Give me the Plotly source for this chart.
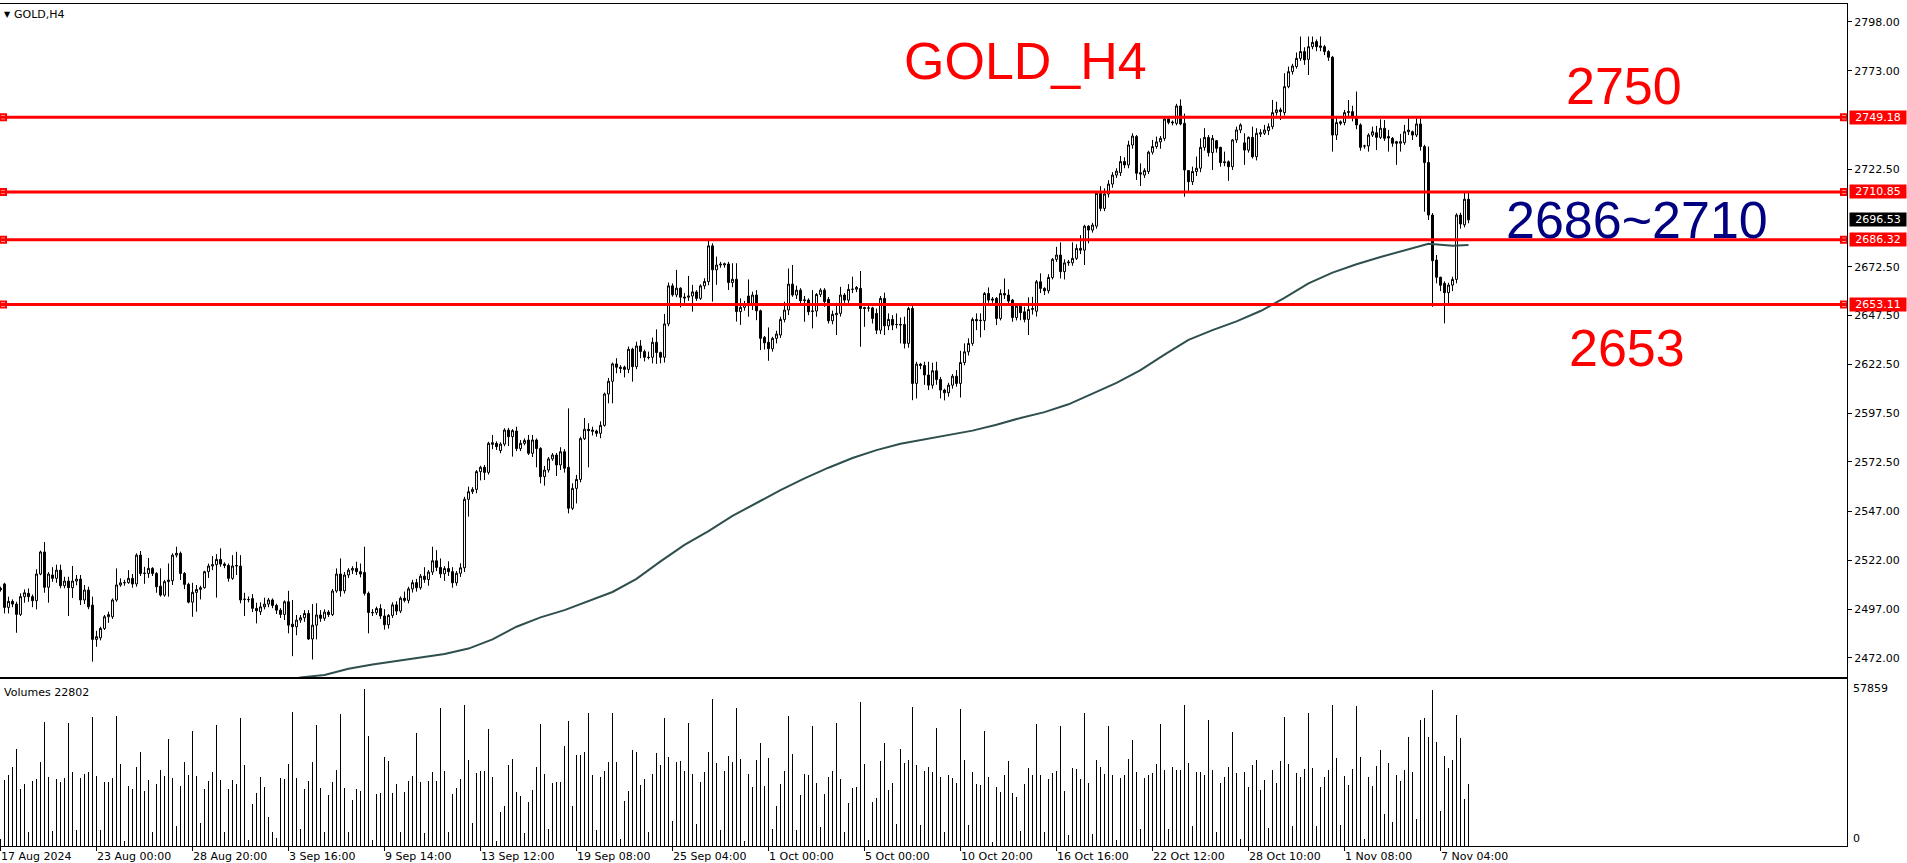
import plotly.graph_objects as go

# ---------------- data ----------------
open_ = [
    2507.6, 2509.9, 2497.9, 2501.0, 2499.6, 2494.3, 2503.4, 2505.1, 2503.4, 2501.3, 2515.0, 2526.3,
    2508.2, 2514.5, 2512.8, 2517.0, 2509.0, 2511.4, 2508.0, 2511.4, 2512.4, 2501.7, 2506.8, 2499.1,
    2481.5, 2482.3, 2487.1, 2493.1, 2493.1, 2501.7, 2509.4, 2510.5, 2510.6, 2512.8, 2509.9, 2524.7,
    2515.3, 2515.3, 2517.9, 2515.3, 2508.8, 2504.2, 2511.1, 2511.6, 2524.7, 2525.6, 2515.3, 2509.7,
    2500.6, 2505.6, 2507.1, 2508.0, 2516.2, 2519.1, 2519.8, 2522.5, 2520.1, 2519.4, 2512.8, 2519.1,
    2519.1, 2501.9, 2502.0, 2502.4, 2497.4, 2495.7, 2498.2, 2499.6, 2501.7, 2498.9, 2496.5, 2494.3,
    2500.8, 2489.3, 2488.0, 2491.4, 2492.6, 2494.8, 2481.7, 2488.8, 2494.0, 2492.3, 2495.5, 2494.2,
    2506.3, 2515.0, 2506.4, 2514.5, 2517.0, 2517.9, 2516.2, 2515.8, 2505.1, 2495.3, 2495.2, 2497.3,
    2493.5, 2489.0, 2493.8, 2499.2, 2496.0, 2502.6, 2501.5, 2507.4, 2510.6, 2508.0, 2513.9, 2512.2,
    2516.0, 2521.8, 2518.4, 2515.1, 2517.8, 2516.2, 2510.5, 2515.4, 2518.2, 2553.3, 2557.2, 2558.4,
    2567.5, 2569.7, 2567.1, 2582.3, 2582.0, 2578.3, 2581.6, 2588.8, 2585.4, 2588.3, 2579.3, 2582.0,
    2583.7, 2576.9, 2583.7, 2579.4, 2564.9, 2568.3, 2574.0, 2576.0, 2570.9, 2577.7, 2569.7, 2548.7,
    2558.9, 2563.5, 2584.4, 2589.2, 2588.8, 2588.3, 2587.1, 2591.2, 2607.3, 2613.8, 2622.7, 2621.0,
    2621.0, 2619.9, 2630.2, 2621.3, 2631.9, 2629.0, 2626.1, 2626.1, 2633.8, 2628.5, 2626.1, 2643.2,
    2662.7, 2658.1, 2661.5, 2657.0, 2656.9, 2657.5, 2659.6, 2656.3, 2662.7, 2664.9, 2683.2, 2670.9,
    2673.4, 2673.4, 2673.9, 2664.4, 2666.1, 2649.5, 2651.7, 2657.5, 2653.4, 2658.0, 2649.9, 2636.3,
    2633.8, 2630.5, 2635.8, 2637.5, 2645.5, 2650.3, 2663.6, 2658.0, 2660.5, 2655.1, 2655.4, 2649.6,
    2649.8, 2658.3, 2660.5, 2655.8, 2644.8, 2647.9, 2648.6, 2658.0, 2655.4, 2660.9, 2661.0, 2661.4,
    2651.6, 2651.4, 2651.4, 2648.6, 2640.0, 2656.3, 2642.2, 2645.5, 2642.9, 2642.9, 2642.9, 2633.2,
    2651.1, 2612.7, 2622.6, 2621.9, 2617.0, 2611.8, 2619.2, 2614.7, 2609.3, 2607.9, 2611.8, 2616.4,
    2612.7, 2623.4, 2628.9, 2633.2, 2645.5, 2645.1, 2644.9, 2658.8, 2656.0, 2656.3, 2646.0, 2658.8,
    2658.0, 2655.4, 2646.5, 2652.3, 2649.4, 2645.5, 2650.6, 2649.7, 2664.8, 2661.4, 2660.2, 2667.0,
    2676.3, 2678.5, 2670.0, 2674.5, 2674.5, 2676.8, 2681.9, 2681.0, 2693.3, 2691.3, 2693.3, 2710.1,
    2702.4, 2709.8, 2714.9, 2719.5, 2720.7, 2726.4, 2724.7, 2734.9, 2739.2, 2720.7, 2719.5, 2721.3,
    2731.2, 2734.1, 2736.5, 2738.3, 2748.2, 2746.7, 2746.0, 2754.9, 2746.0, 2721.8, 2716.1, 2721.3,
    2723.0, 2733.7, 2738.8, 2731.0, 2737.1, 2733.7, 2726.3, 2726.3, 2723.8, 2737.5, 2742.6, 2736.0,
    2732.3, 2738.8, 2728.9, 2740.5, 2740.9, 2742.3, 2744.3, 2751.5, 2752.9, 2751.5, 2764.8, 2772.5,
    2775.1, 2779.3, 2782.8, 2778.8, 2785.3, 2787.9, 2785.7, 2785.3, 2782.8, 2779.9, 2740.0, 2746.8,
    2746.4, 2751.5, 2752.0, 2749.4, 2745.2, 2734.4, 2734.4, 2740.0, 2741.2, 2738.8, 2743.5, 2739.2,
    2738.3, 2736.6, 2735.8, 2736.1, 2741.7, 2741.7, 2740.0, 2745.7, 2734.1, 2725.9, 2699.0, 2675.9,
    2667.1, 2664.0, 2659.2, 2663.1, 2666.0, 2699.0, 2694.0, 2707.1,
]
high = [
    2508.5, 2510.5, 2503.4, 2502.0, 2500.8, 2505.1, 2507.1, 2507.6, 2504.5, 2517.4, 2527.0, 2531.4,
    2516.0, 2518.5, 2519.8, 2519.8, 2513.6, 2513.6, 2519.1, 2514.5, 2514.5, 2509.4, 2508.5, 2503.4,
    2485.9, 2488.0, 2494.0, 2495.7, 2502.5, 2517.9, 2512.8, 2512.0, 2517.0, 2515.0, 2525.6, 2526.8,
    2518.7, 2523.2, 2518.5, 2516.0, 2517.9, 2512.0, 2520.4, 2525.6, 2529.0, 2526.5, 2516.0, 2510.5,
    2510.5, 2509.4, 2509.0, 2516.7, 2520.4, 2524.2, 2525.2, 2528.2, 2521.0, 2520.4, 2524.7, 2526.4,
    2524.7, 2505.4, 2503.5, 2504.7, 2500.3, 2500.5, 2502.9, 2502.7, 2502.5, 2499.8, 2497.5, 2501.5,
    2506.4, 2501.7, 2494.0, 2494.0, 2496.5, 2496.5, 2499.6, 2500.0, 2496.5, 2496.9, 2496.5, 2507.3,
    2517.9, 2523.0, 2516.0, 2518.0, 2519.0, 2521.3, 2520.4, 2529.0, 2506.0, 2497.0, 2498.3, 2499.5,
    2497.0, 2494.5, 2500.5, 2501.0, 2503.5, 2506.0, 2508.5, 2512.0, 2512.5, 2515.0, 2518.5, 2517.0,
    2529.0, 2527.2, 2523.0, 2519.0, 2521.5, 2518.5, 2516.5, 2520.5, 2554.6, 2559.8, 2559.5, 2568.3,
    2570.5, 2570.9, 2582.8, 2586.3, 2583.0, 2582.5, 2589.7, 2589.9, 2589.3, 2590.5, 2583.7, 2584.5,
    2586.3, 2586.3, 2584.5, 2580.0, 2570.4, 2575.0, 2577.0, 2577.0, 2580.0, 2579.0, 2599.9, 2561.5,
    2565.8, 2585.4, 2595.0, 2592.3, 2590.5, 2589.0, 2593.3, 2608.0, 2615.5, 2623.4, 2625.6, 2622.0,
    2621.8, 2631.6, 2631.0, 2634.1, 2634.9, 2630.0, 2629.0, 2636.2, 2640.4, 2629.0, 2648.3, 2664.4,
    2664.0, 2670.9, 2662.0, 2659.0, 2667.8, 2663.2, 2660.5, 2663.5, 2666.6, 2685.9, 2684.5, 2677.7,
    2675.0, 2674.6, 2675.0, 2674.3, 2674.3, 2656.3, 2655.0, 2666.0, 2659.7, 2660.5, 2650.5, 2637.0,
    2641.4, 2636.6, 2639.7, 2646.9, 2654.6, 2671.6, 2673.4, 2662.8, 2661.5, 2657.5, 2656.3, 2660.5,
    2659.0, 2661.5, 2661.5, 2657.0, 2650.0, 2654.0, 2662.2, 2659.0, 2663.6, 2667.4, 2662.6, 2670.3,
    2652.0, 2652.5, 2652.0, 2651.1, 2657.5, 2659.2, 2648.6, 2647.7, 2648.6, 2646.5, 2646.9, 2652.0,
    2652.3, 2623.8, 2623.2, 2623.8, 2623.8, 2623.3, 2623.8, 2616.0, 2610.0, 2613.0, 2617.5, 2619.5,
    2629.4, 2633.2, 2635.8, 2646.5, 2648.6, 2648.6, 2659.5, 2661.9, 2657.0, 2657.0, 2660.9, 2666.5,
    2660.9, 2656.0, 2653.0, 2654.0, 2652.0, 2656.8, 2657.1, 2665.7, 2669.1, 2662.0, 2668.7, 2677.0,
    2682.7, 2685.0, 2676.3, 2676.0, 2685.0, 2684.0, 2688.7, 2694.0, 2693.8, 2695.0, 2710.8, 2713.8,
    2712.7, 2716.9, 2721.0, 2723.0, 2729.3, 2728.6, 2737.1, 2740.9, 2740.0, 2725.5, 2723.0, 2732.0,
    2737.5, 2739.2, 2739.5, 2749.5, 2749.0, 2747.5, 2756.0, 2758.3, 2751.0, 2722.0, 2723.8, 2729.0,
    2738.3, 2743.5, 2740.0, 2740.0, 2737.5, 2734.0, 2731.5, 2727.0, 2738.0, 2744.3, 2746.0, 2740.9,
    2739.3, 2744.3, 2743.5, 2743.0, 2745.2, 2746.0, 2758.0, 2757.1, 2754.0, 2771.7, 2775.1, 2776.5,
    2782.3, 2790.5, 2785.0, 2790.5, 2790.5, 2789.0, 2790.5, 2786.2, 2783.5, 2780.5, 2748.9, 2747.5,
    2752.9, 2758.0, 2755.0, 2762.3, 2746.0, 2735.0, 2740.9, 2744.3, 2744.7, 2748.1, 2747.7, 2742.6,
    2739.0, 2737.0, 2740.6, 2745.2, 2748.6, 2742.3, 2748.6, 2748.6, 2735.0, 2734.1, 2700.0, 2678.5,
    2667.4, 2665.0, 2664.3, 2667.4, 2699.9, 2700.2, 2710.5, 2710.5,
]
low = [
    2506.0, 2494.8, 2494.8, 2498.0, 2484.9, 2493.5, 2500.3, 2500.8, 2498.0, 2496.9, 2514.4, 2505.4,
    2500.3, 2511.0, 2510.5, 2507.7, 2507.7, 2493.5, 2502.7, 2509.2, 2499.1, 2499.6, 2497.0, 2470.1,
    2477.7, 2481.0, 2486.3, 2490.0, 2492.0, 2500.8, 2508.5, 2509.0, 2510.0, 2508.0, 2508.5, 2514.0,
    2510.0, 2513.0, 2514.0, 2505.4, 2503.4, 2503.4, 2503.4, 2509.4, 2523.5, 2511.9, 2507.3, 2500.0,
    2493.1, 2495.7, 2502.0, 2507.5, 2513.0, 2517.0, 2502.9, 2518.7, 2518.0, 2511.1, 2512.0, 2514.5,
    2500.0, 2493.5, 2500.5, 2495.5, 2489.7, 2494.0, 2496.9, 2498.0, 2497.5, 2494.5, 2492.5, 2491.4,
    2484.6, 2472.9, 2483.6, 2490.0, 2490.5, 2481.2, 2471.2, 2481.5, 2490.5, 2491.0, 2493.0, 2493.5,
    2505.4, 2503.4, 2505.0, 2513.0, 2515.0, 2514.5, 2513.3, 2504.0, 2484.6, 2493.5, 2494.0, 2492.0,
    2486.5, 2487.0, 2492.5, 2494.0, 2495.0, 2500.5, 2500.0, 2505.5, 2506.0, 2507.0, 2510.5, 2509.0,
    2514.5, 2516.5, 2513.0, 2511.5, 2514.0, 2508.0, 2509.0, 2513.5, 2516.0, 2544.4, 2556.0, 2556.4,
    2563.0, 2563.2, 2566.0, 2579.0, 2578.6, 2576.9, 2580.5, 2580.6, 2575.2, 2578.0, 2578.0, 2581.0,
    2576.0, 2575.0, 2569.7, 2561.5, 2560.3, 2567.0, 2573.0, 2565.2, 2568.3, 2567.0, 2546.1, 2547.8,
    2551.2, 2562.0, 2583.7, 2569.7, 2586.0, 2585.4, 2584.6, 2590.5, 2602.5, 2602.5, 2617.9, 2618.0,
    2615.8, 2618.0, 2613.6, 2620.0, 2625.6, 2624.0, 2625.0, 2623.0, 2622.7, 2623.0, 2623.4, 2642.0,
    2657.2, 2656.9, 2651.7, 2654.0, 2655.0, 2649.5, 2655.0, 2655.5, 2661.0, 2663.0, 2654.6, 2663.2,
    2672.0, 2672.0, 2660.6, 2662.0, 2644.4, 2642.7, 2650.0, 2646.9, 2650.3, 2645.1, 2629.8, 2630.1,
    2624.3, 2629.0, 2633.2, 2636.0, 2644.0, 2647.7, 2657.1, 2656.0, 2653.0, 2644.3, 2647.7, 2640.9,
    2646.9, 2657.0, 2652.0, 2643.4, 2643.0, 2637.5, 2647.0, 2654.0, 2654.0, 2659.0, 2659.5, 2631.5,
    2641.7, 2649.5, 2643.4, 2638.0, 2638.0, 2637.5, 2640.0, 2640.0, 2640.9, 2633.2, 2630.6, 2631.0,
    2604.1, 2605.0, 2620.0, 2612.0, 2609.3, 2610.0, 2612.0, 2605.0, 2604.0, 2605.9, 2610.0, 2611.0,
    2605.5, 2622.0, 2627.0, 2632.0, 2640.0, 2636.3, 2640.0, 2654.0, 2654.0, 2642.6, 2645.0, 2656.0,
    2653.0, 2644.3, 2645.0, 2645.1, 2644.0, 2637.5, 2648.0, 2647.0, 2659.0, 2658.0, 2658.8, 2666.0,
    2675.0, 2666.5, 2666.0, 2673.0, 2673.0, 2676.0, 2679.0, 2673.4, 2684.5, 2690.0, 2692.0, 2701.0,
    2701.0, 2708.0, 2713.0, 2718.0, 2719.0, 2723.0, 2723.0, 2733.0, 2717.0, 2713.9, 2718.0, 2720.0,
    2730.0, 2733.0, 2733.0, 2737.0, 2745.5, 2745.0, 2745.0, 2745.0, 2708.4, 2711.5, 2714.4, 2719.0,
    2721.0, 2732.0, 2729.0, 2722.1, 2731.0, 2723.8, 2724.0, 2716.5, 2722.1, 2736.0, 2741.0, 2724.7,
    2731.0, 2728.0, 2727.0, 2739.0, 2740.0, 2740.0, 2743.0, 2750.0, 2747.7, 2750.0, 2764.0, 2771.0,
    2774.0, 2778.0, 2776.0, 2770.8, 2784.0, 2783.0, 2783.0, 2781.0, 2778.0, 2731.5, 2737.5, 2745.0,
    2745.0, 2749.0, 2747.0, 2743.0, 2732.0, 2733.0, 2731.5, 2739.0, 2732.3, 2738.0, 2737.0, 2731.5,
    2734.0, 2724.7, 2731.5, 2735.0, 2740.0, 2737.5, 2739.0, 2732.0, 2700.7, 2696.5, 2652.0, 2664.0,
    2660.0, 2643.5, 2653.5, 2660.0, 2664.0, 2692.0, 2692.7, 2694.8,
]
close = [
    2507.0, 2497.9, 2501.0, 2499.6, 2494.3, 2503.4, 2505.4, 2503.4, 2501.3, 2515.0, 2526.3, 2508.2,
    2515.0, 2512.8, 2517.0, 2509.0, 2511.4, 2508.0, 2511.4, 2512.4, 2501.7, 2506.8, 2498.2, 2481.5,
    2482.9, 2487.1, 2493.1, 2494.2, 2501.7, 2509.4, 2510.5, 2510.6, 2512.8, 2509.9, 2524.7, 2515.3,
    2515.4, 2517.9, 2515.3, 2508.5, 2504.2, 2511.1, 2511.9, 2524.7, 2525.6, 2515.3, 2509.7, 2500.6,
    2505.6, 2507.1, 2508.0, 2516.2, 2519.1, 2519.8, 2522.5, 2520.1, 2519.4, 2512.8, 2519.1, 2519.3,
    2501.7, 2502.1, 2501.9, 2497.4, 2496.2, 2498.2, 2499.6, 2501.7, 2498.9, 2496.5, 2494.3, 2500.8,
    2488.8, 2488.0, 2491.4, 2492.6, 2494.8, 2481.7, 2488.8, 2494.0, 2492.3, 2495.5, 2494.2, 2506.3,
    2515.0, 2506.4, 2514.5, 2517.0, 2517.9, 2516.2, 2515.0, 2505.1, 2495.3, 2495.2, 2497.3, 2493.5,
    2489.0, 2493.8, 2499.2, 2496.0, 2502.6, 2501.5, 2507.4, 2510.6, 2508.0, 2513.9, 2512.2, 2516.0,
    2521.8, 2518.4, 2515.1, 2517.8, 2516.2, 2510.5, 2515.4, 2518.2, 2553.3, 2557.2, 2558.4, 2567.5,
    2569.7, 2567.1, 2582.0, 2581.5, 2580.3, 2581.6, 2588.8, 2585.4, 2588.5, 2579.3, 2582.0, 2583.4,
    2576.9, 2583.7, 2579.3, 2564.9, 2568.3, 2574.0, 2576.0, 2570.9, 2577.7, 2569.2, 2548.7, 2558.9,
    2563.5, 2584.4, 2589.2, 2588.5, 2588.2, 2587.1, 2591.2, 2607.3, 2613.8, 2622.7, 2621.0, 2620.4,
    2619.9, 2630.2, 2621.3, 2631.9, 2629.0, 2626.1, 2626.0, 2633.8, 2628.5, 2626.1, 2643.2, 2662.7,
    2658.1, 2661.5, 2656.9, 2656.5, 2657.5, 2659.6, 2656.3, 2662.7, 2664.9, 2683.2, 2670.9, 2673.4,
    2673.8, 2674.0, 2664.4, 2666.1, 2649.5, 2651.7, 2653.4, 2653.4, 2658.0, 2649.9, 2635.8, 2633.5,
    2630.5, 2635.8, 2638.0, 2645.5, 2650.3, 2663.6, 2658.0, 2660.5, 2655.1, 2655.5, 2649.4, 2649.8,
    2658.3, 2660.5, 2654.6, 2644.8, 2648.1, 2648.6, 2658.0, 2655.4, 2660.9, 2661.0, 2661.9, 2651.1,
    2651.1, 2651.3, 2646.0, 2640.0, 2656.3, 2642.2, 2645.5, 2642.6, 2642.9, 2642.7, 2633.2, 2651.1,
    2612.7, 2622.6, 2621.9, 2617.0, 2611.8, 2619.2, 2614.7, 2609.3, 2607.9, 2611.8, 2616.4, 2612.7,
    2623.4, 2628.9, 2633.2, 2645.5, 2644.8, 2644.9, 2658.8, 2655.4, 2655.4, 2646.0, 2658.8, 2658.0,
    2654.9, 2646.5, 2652.3, 2648.9, 2645.5, 2650.6, 2651.1, 2664.8, 2661.4, 2660.2, 2667.0, 2676.3,
    2678.5, 2670.0, 2674.5, 2674.9, 2676.8, 2681.9, 2681.0, 2693.3, 2691.3, 2693.9, 2710.1, 2702.4,
    2709.8, 2714.9, 2719.5, 2721.5, 2726.4, 2724.7, 2734.9, 2739.5, 2720.4, 2720.0, 2721.8, 2731.2,
    2734.1, 2736.5, 2738.3, 2748.2, 2746.5, 2746.3, 2754.9, 2745.7, 2722.1, 2716.1, 2721.3, 2723.0,
    2733.7, 2738.8, 2731.0, 2738.3, 2733.2, 2725.9, 2725.9, 2723.8, 2737.5, 2742.6, 2745.2, 2732.3,
    2738.8, 2728.9, 2740.9, 2741.2, 2742.6, 2744.3, 2751.5, 2752.9, 2752.0, 2764.8, 2772.5, 2775.4,
    2779.3, 2782.8, 2778.5, 2785.3, 2787.5, 2785.3, 2785.0, 2782.8, 2779.9, 2740.0, 2746.4, 2746.0,
    2751.5, 2752.0, 2749.4, 2745.2, 2733.7, 2734.4, 2740.0, 2741.7, 2738.8, 2743.5, 2738.3, 2738.5,
    2735.8, 2735.8, 2736.6, 2741.7, 2742.6, 2740.0, 2745.7, 2734.1, 2725.9, 2699.0, 2675.6, 2667.1,
    2663.0, 2659.2, 2663.1, 2666.0, 2699.0, 2694.4, 2707.1, 2696.53,
]
volume = [
    2700, 24300, 26200, 29000, 35800, 21000, 22800, 5100, 23900, 24700, 31000, 45800,
    25400, 5400, 24700, 23600, 25000, 45400, 27300, 5800, 25000, 26500, 27300, 47600,
    25800, 5800, 23600, 23600, 25000, 48000, 30200, 1700, 22100, 21000, 29100, 34700,
    20200, 24300, 5100, 22800, 28000, 25800, 39500, 25000, 7300, 22100, 31000, 26200,
    42400, 25800, 8400, 21000, 23900, 27300, 44700, 24300, 5100, 21000, 24300, 22800,
    47300, 29900, 2100, 15400, 19500, 25400, 21700, 10600, 5100, 2800, 25000, 24700,
    30200, 49500, 25000, 6200, 21000, 23900, 31000, 44700, 21300, 5100, 18800, 23600,
    28000, 48700, 21300, 5100, 16900, 21000, 20200, 57859, 40600, 2100, 19100, 19500,
    32800, 31300, 19500, 22800, 5100, 19900, 23900, 25800, 41700, 23600, 4700, 23900,
    27300, 23900, 51000, 27600, 5100, 19100, 21300, 24700, 52100, 31700, 8400, 26900,
    27600, 27600, 43200, 25400, 1700, 12500, 14700, 29900, 32100, 19900, 18400, 4700,
    16200, 20600, 29100, 45000, 26500, 6200, 23200, 23600, 23600, 36900, 46200, 14700,
    33600, 33600, 34700, 49100, 26200, 5800, 25400, 27600, 31000, 49100, 31000, 2500,
    16500, 20200, 35400, 34700, 22500, 24700, 5100, 26500, 34300, 29900, 47300, 32800,
    9100, 31000, 31300, 27600, 45400, 26500, 8000, 23600, 27300, 34700, 54300, 30600,
    5800, 27600, 33200, 31000, 51000, 32100, 1700, 26500, 21700, 31700, 38000, 22100,
    32500, 6200, 14700, 22800, 27600, 48000, 33900, 5800, 18800, 26500, 26200, 44300,
    23200, 6900, 19100, 25400, 27600, 45400, 24700, 5100, 15800, 21300, 21700, 53200,
    30200, 2100, 16200, 17600, 31300, 38000, 20600, 23200, 8000, 35800, 30600, 31700,
    51300, 29900, 7700, 27600, 29100, 27300, 43600, 25400, 5100, 26200, 25000, 23200,
    50600, 31700, 7700, 27300, 22800, 22500, 42400, 25400, 1400, 21700, 19900, 26200,
    31300, 19500, 18000, 5400, 22800, 28800, 26200, 45000, 26200, 5100, 24700, 26900,
    27600, 44300, 20200, 3900, 28800, 28400, 24700, 49100, 23200, 4300, 31700, 29100,
    26500, 44300, 26200, 2100, 25000, 26200, 32100, 39100, 27300, 6200, 25000, 26200,
    26900, 30200, 45000, 28000, 6200, 29100, 28000, 28000, 52100, 30600, 7300, 27300,
    27300, 26200, 46500, 28000, 5100, 23200, 25400, 29100, 42100, 26900, 2500, 27300,
    21700, 29900, 31700, 20600, 24300, 6500, 28000, 23200, 31300, 47600, 30200, 7300,
    26900, 25400, 28400, 49100, 28800, 7300, 21700, 25400, 28000, 52100, 32500, 7700,
    25800, 22500, 28400, 51700, 32800, 2500, 25400, 22100, 29500, 35400, 11700, 30600,
    8800, 26200, 23900, 28000, 40200, 27300, 9900, 46500, 47300, 40200, 57400, 38400,
    12800, 33200, 28800, 31700, 48400, 39900, 17300, 22802,
]
ma_bar = [69, 75, 81, 87, 93, 99, 105, 111, 117, 123, 129, 135, 141, 147, 153, 159, 165,
          171, 177, 183, 189, 195, 201, 207, 213, 219, 225, 231, 237, 243, 249, 255, 261,
          267, 273, 279, 285, 291, 297, 303, 309, 315, 321, 327, 333, 339, 345, 351, 357,
          363, 367]
ma_val = [2459.0, 2462.0, 2463.3, 2466.4, 2468.6, 2470.5, 2472.3, 2474.0, 2476.8, 2481.5,
          2488.0, 2492.8, 2496.5, 2501.0, 2505.8, 2512.5, 2521.5, 2529.9, 2537.0, 2544.8,
          2551.5, 2558.0, 2564.0, 2569.5, 2574.5, 2578.5, 2581.8, 2584.0, 2586.0, 2588.5,
          2591.5, 2595.0, 2598.0, 2602.0, 2607.5, 2613.0, 2619.5, 2627.5, 2635.0, 2640.0,
          2644.5, 2649.8, 2656.5, 2664.0, 2669.5, 2673.8, 2677.5, 2681.0, 2684.3, 2683.3,
          2683.6]
levels = [2749.18, 2710.85, 2686.32, 2653.11]
last_price = 2696.53
price_ticks = [2798.00, 2773.00, 2722.50, 2672.50, 2647.50, 2622.50, 2597.50,
               2572.50, 2547.00, 2522.00, 2497.00, 2472.00]
date_bars = [0, 24, 48, 72, 96, 120, 144, 168, 192, 216, 240, 264, 288, 312, 336, 360]
date_labels = ["17 Aug 2024", "23 Aug 00:00", "28 Aug 20:00", "3 Sep 16:00", "9 Sep 14:00",
               "13 Sep 12:00", "19 Sep 08:00", "25 Sep 04:00", "1 Oct 00:00", "5 Oct 00:00",
               "10 Oct 20:00", "16 Oct 16:00", "22 Oct 12:00", "28 Oct 10:00", "1 Nov 08:00",
               "7 Nov 04:00"]
vol_max_label = 57859

# ---------------- geometry ----------------
W, H = 1907, 863
PLOT_R = 1847          # right edge of the panels (px)
MAIN_T, MAIN_B = 4, 677
VOL_T, VOL_B = 679, 846
PX_PER_BAR, BAR0 = 4.0, 0.5
PX_PER_USD = 1.951
P_REF, P_REF_Y = 2798.0, 21.9


def yp(pix):
    return 1 - pix / H


def xp(pix):
    return pix / W


price_top = P_REF + (P_REF_Y - MAIN_T) / PX_PER_USD
price_bot = P_REF - (MAIN_B - P_REF_Y) / PX_PER_USD
vol_top = vol_max_label * (VOL_B - VOL_T) / (VOL_B - 689)
x_lo = (0 - BAR0) / PX_PER_BAR
x_hi = (PLOT_R - BAR0) / PX_PER_BAR

idx = list(range(len(close)))
hi = [max(h, o, c) for h, o, c in zip(high, open_, close)]
lo = [min(l, o, c) for l, o, c in zip(low, open_, close)]

FONT = "DejaVu Sans"
BIG = "Liberation Sans, Arial"

fig = go.Figure()
fig.add_trace(go.Candlestick(
    x=idx, open=open_, high=hi, low=lo, close=close,
    increasing=dict(line=dict(color="black", width=1), fillcolor="white"),
    decreasing=dict(line=dict(color="black", width=1), fillcolor="black"),
    whiskerwidth=0, hoverinfo="skip", showlegend=False, xaxis="x", yaxis="y"))
fig.add_trace(go.Scatter(
    x=ma_bar, y=ma_val, mode="lines", line=dict(color="#2F4F4F", width=2),
    hoverinfo="skip", showlegend=False, xaxis="x", yaxis="y"))
fig.add_trace(go.Bar(
    x=idx, y=volume, width=0.25, marker=dict(color="black", line=dict(width=0)),
    hoverinfo="skip", showlegend=False, xaxis="x2", yaxis="y2"))

# level lines
for lv in levels:
    fig.add_shape(type="line", xref="x domain", yref="y", x0=0, x1=1, y0=lv, y1=lv,
                  line=dict(color="#FF0000", width=3))
# line handles
hx_left = (3 - BAR0) / PX_PER_BAR
hx_right = (1844 - BAR0) / PX_PER_BAR
fig.add_trace(go.Scatter(
    x=[hx_left] * len(levels) + [hx_right] * len(levels), y=levels + levels,
    mode="markers", marker=dict(symbol="square", size=6, color="white",
                                line=dict(color="#FF0000", width=2)),
    cliponaxis=False, hoverinfo="skip", showlegend=False, xaxis="x", yaxis="y"))

axis_common = dict(showgrid=False, zeroline=False, showline=True, linecolor="black",
                   linewidth=1, mirror=True, fixedrange=True)

fig.update_layout(
    width=W, height=H, margin=dict(l=0, r=0, t=0, b=0),
    paper_bgcolor="white", plot_bgcolor="white", showlegend=False,
    font=dict(family=FONT, size=11, color="black"),
    xaxis=dict(domain=[0, xp(PLOT_R)], range=[x_lo, x_hi], anchor="y",
               showticklabels=False, ticks="", rangeslider=dict(visible=False),
               **axis_common),
    yaxis=dict(domain=[yp(MAIN_B), yp(MAIN_T)], range=[price_bot, price_top], anchor="x",
               side="right", tickvals=price_ticks, ticktext=[f"{v:.2f}" for v in price_ticks],
               ticks="outside", ticklen=4, tickcolor="black",
               tickfont=dict(family=FONT, size=11, color="black"), **axis_common),
    xaxis2=dict(domain=[0, xp(PLOT_R)], range=[x_lo, x_hi], anchor="y2",
                tickvals=date_bars, ticks="outside", ticklen=4, tickcolor="black",
                showticklabels=False, **axis_common),
    yaxis2=dict(domain=[yp(VOL_B), yp(VOL_T)], range=[0, vol_top], anchor="x2",
                side="right", showticklabels=False, ticks="", **axis_common),
    bargap=0,
)

ann = []
# date labels
for b, t in zip(date_bars, date_labels):
    ann.append(dict(x=b, xref="x2", y=yp(856), yref="paper", text=t, showarrow=False,
                    xanchor="left", yanchor="middle", xshift=-2,
                    font=dict(family=FONT, size=11, color="black")))
# price level tags
for lv in levels:
    ann.append(dict(x=xp(1849), xref="paper", y=lv, yref="y", text=f"{lv:.2f}",
                    showarrow=False, xanchor="left", yanchor="middle", align="center",
                    width=54, height=11, borderpad=1, bgcolor="#FF0000",
                    font=dict(family=FONT, size=11, color="white")))
ann.append(dict(x=xp(1849), xref="paper", y=last_price, yref="y", text=f"{last_price:.2f}",
                showarrow=False, xanchor="left", yanchor="middle", align="center",
                width=54, height=11, borderpad=1, bgcolor="black",
                font=dict(family=FONT, size=11, color="white")))
# volume scale labels
ann.append(dict(x=xp(1851), xref="paper", y=yp(688), yref="paper", text=str(vol_max_label),
                showarrow=False, xanchor="left", yanchor="middle",
                font=dict(family=FONT, size=11, color="black")))
ann.append(dict(x=xp(1851), xref="paper", y=yp(838), yref="paper", text="0",
                showarrow=False, xanchor="left", yanchor="middle",
                font=dict(family=FONT, size=11, color="black")))
# window captions
ann.append(dict(x=xp(2), xref="paper", y=yp(14), yref="paper", text="▼",
                showarrow=False, xanchor="left", yanchor="middle",
                font=dict(family=FONT, size=8, color="black")))
ann.append(dict(x=xp(12), xref="paper", y=yp(14), yref="paper", text="GOLD,H4",
                showarrow=False, xanchor="left", yanchor="middle",
                font=dict(family=FONT, size=11, color="black")))
ann.append(dict(x=xp(2), xref="paper", y=yp(692), yref="paper", text="Volumes 22802",
                showarrow=False, xanchor="left", yanchor="middle",
                font=dict(family=FONT, size=11, color="black")))
# big chart texts
ann.append(dict(x=xp(1025), xref="paper", y=yp(61), yref="paper", text="GOLD_H4",
                showarrow=False, xanchor="center", yanchor="middle",
                font=dict(family=BIG, size=52, color="#FF0000")))
ann.append(dict(x=xp(1624), xref="paper", y=yp(86), yref="paper", text="2750",
                showarrow=False, xanchor="center", yanchor="middle",
                font=dict(family=BIG, size=52, color="#FF0000")))
ann.append(dict(x=xp(1637), xref="paper", y=yp(220), yref="paper", text="2686~2710",
                showarrow=False, xanchor="center", yanchor="middle",
                font=dict(family=BIG, size=52, color="#000080")))
ann.append(dict(x=xp(1627), xref="paper", y=yp(348), yref="paper", text="2653",
                showarrow=False, xanchor="center", yanchor="middle",
                font=dict(family=BIG, size=52, color="#FF0000")))
fig.update_layout(annotations=ann)

fig.write_html("out.html", config={"displayModeBar": False},
               post_script="document.body.style.margin='0';document.body.style.overflow='hidden';")
